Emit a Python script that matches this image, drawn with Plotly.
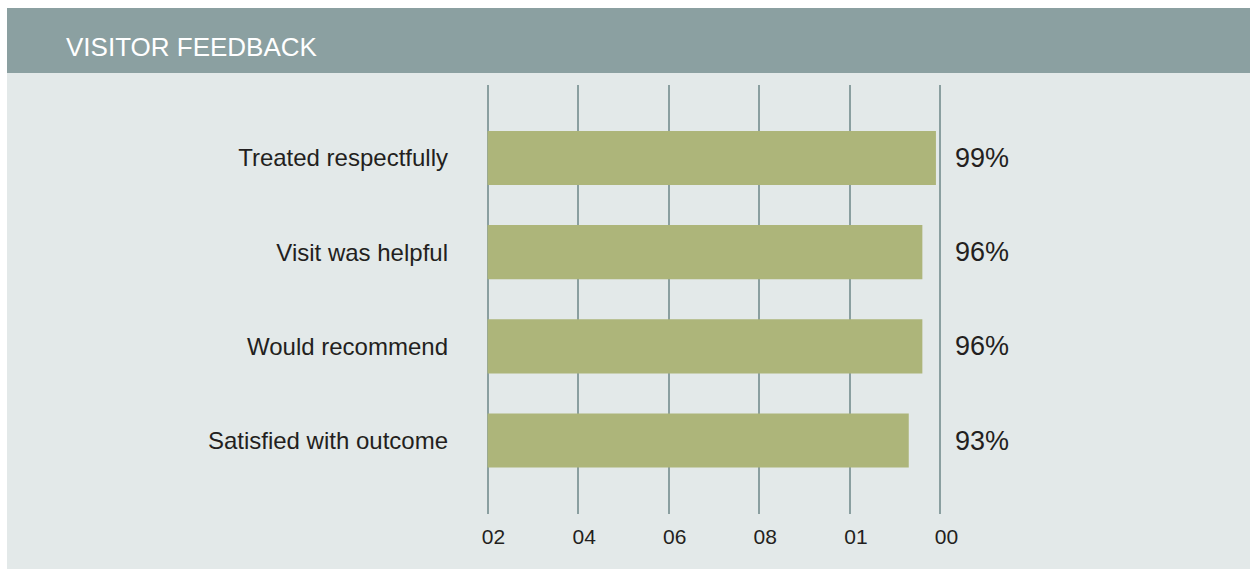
import plotly.graph_objects as go

# Survey results
categories = ["Treated respectfully", "Visit was helpful", "Would recommend", "Satisfied with outcome"]
values = [99, 96, 96, 93]

# X-axis ticks and their printed labels
tick_values = [0, 20, 40, 60, 80, 100]
tick_labels = ["02", "04", "06", "08", "01", "00"]

title_text = "VISITOR FEEDBACK"

W, H = 1250, 569
L, R, T, B = 483, 945, 85, 514  # plot area in pixels
X_RANGE = [-1, 101]  # a little slack so the edge gridlines are drawn

FONT = "Liberation Sans, Arial, Helvetica, sans-serif"
TEXT = "#231f20"
HEADER = "#8ba0a1"
PANEL = "#e3e9e9"
BAR = "#adb57a"
GRID = "#8a9fa0"


def px_x(p):
    return (p - L) / (R - L)


def px_y(p):
    return (B - p) / (B - T)


fig = go.Figure()
fig.add_trace(go.Bar(
    x=values,
    y=categories,
    orientation="h",
    width=0.575,
    marker=dict(color=BAR, line=dict(width=0)),
    hoverinfo="skip",
))

# value labels to the right of the axis
for cat, v in zip(categories, values):
    fig.add_annotation(
        x=100, y=cat, xref="x", yref="y",
        text=f"{v}%", showarrow=False,
        xanchor="left", yanchor="middle", xshift=13,
        font=dict(family=FONT, size=27, color=TEXT),
    )

# panel background and header band
fig.add_shape(type="rect", xref="paper", yref="paper", layer="below",
              x0=px_x(7), x1=px_x(W + 5), y0=px_y(H + 5), y1=px_y(8),
              fillcolor=PANEL, line=dict(width=0))
fig.add_shape(type="rect", xref="paper", yref="paper", layer="below",
              x0=px_x(7), x1=px_x(W + 5), y0=px_y(73), y1=px_y(8),
              fillcolor=HEADER, line=dict(width=0))
fig.add_annotation(
    xref="paper", yref="paper", x=px_x(64), y=px_y(47),
    text=title_text, showarrow=False, xanchor="left", yanchor="middle",
    font=dict(family=FONT, size=26, color="white"),
)

fig.update_layout(
    width=W, height=H,
    margin=dict(l=L, r=W - R, t=T, b=H - B, pad=0),
    paper_bgcolor="white",
    plot_bgcolor="rgba(0,0,0,0)",
    showlegend=False,
    font=dict(family=FONT, color=TEXT),
    xaxis=dict(
        range=X_RANGE,
        tickvals=tick_values, ticktext=tick_labels,
        showgrid=True, gridcolor=GRID, gridwidth=2,
        zeroline=False,
        showline=False, ticks="",
        tickfont=dict(family=FONT, size=21, color=TEXT),
        ticklabelshift=6, ticklabelstandoff=8,
        fixedrange=True,
    ),
    yaxis=dict(
        type="category",
        categoryorder="array", categoryarray=categories,
        range=[3.78, -0.775],
        showgrid=False, zeroline=False, showline=False, ticks="",
        tickfont=dict(family=FONT, size=24, color=TEXT),
        ticklabelstandoff=34,
        fixedrange=True,
    ),
)

fig.write_html("out.html")
